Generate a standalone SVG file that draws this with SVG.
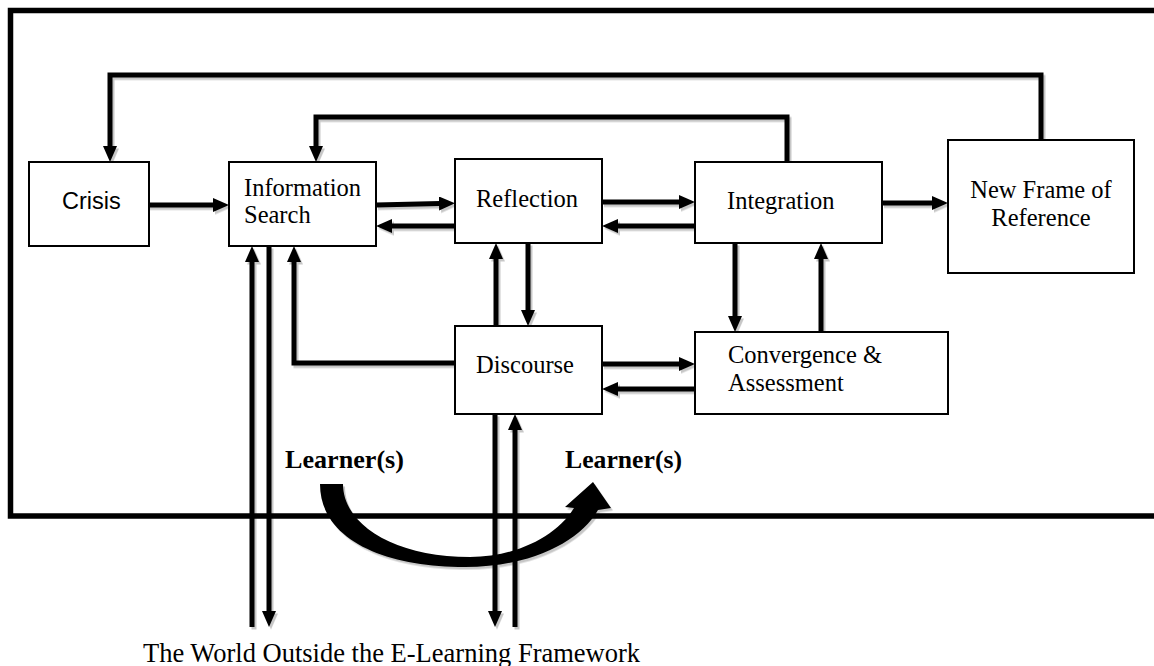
<svg xmlns="http://www.w3.org/2000/svg" width="1154" height="666" viewBox="0 0 1154 666">
  <style>
    .box { fill: #ffffff; stroke: #000000; stroke-width: 2; }
    .conn { fill: none; stroke: #000000; stroke-width: 5; stroke-linejoin: miter; stroke-linecap: butt; marker-end: url(#head); }
    .serif { font-family: "Liberation Serif", "Times New Roman", serif; font-size: 24.5px; fill: #000000; }
    .sans { font-family: "Liberation Sans", Arial, sans-serif; font-size: 23.5px; fill: #000000; }
    .learner { font-family: "Liberation Serif", "Times New Roman", serif; font-size: 24.5px; font-weight: bold; fill: #000000; }
    .world { font-family: "Liberation Serif", "Times New Roman", serif; font-size: 26.5px; fill: #000000; }
  </style>
  <defs>
    <marker id="head" markerUnits="userSpaceOnUse" markerWidth="17" markerHeight="15" refX="1" refY="7" orient="auto">
      <path d="M0,0 L16,7 L0,14 Z" fill="#000000"/>
    </marker>
    <filter id="shadow" x="-5%" y="-5%" width="110%" height="110%">
      <feDropShadow dx="2" dy="2.5" stdDeviation="0.6" flood-color="#000000" flood-opacity="0.22"/>
    </filter>
  </defs>
  <rect width="1154" height="666" fill="#ffffff"/>

  <!-- outer frame (open to the right) -->
  <path id="frame" d="M1160,10.5 H10.5 V516 H1160" fill="none" stroke="#000000" stroke-width="5.5"/>

  <g id="connectors" filter="url(#shadow)">
    <path class="conn" d="M147,205 H214"/>
    <path class="conn" d="M376,205 L440,203.5"/>
    <path class="conn" d="M455,226 H391"/>
    <path class="conn" d="M602,202 H680"/>
    <path class="conn" d="M695,226 H617"/>
    <path class="conn" d="M882,203 H933"/>
    <path class="conn" d="M1041,140 V75 H110 V147"/>
    <path class="conn" d="M787,162 V117 H316 V147"/>
    <path class="conn" d="M528,243 V311"/>
    <path class="conn" d="M496,326 V258"/>
    <path class="conn" d="M735,243 V317"/>
    <path class="conn" d="M821,332 V258"/>
    <path class="conn" d="M602,364 H680"/>
    <path class="conn" d="M695,389 H617"/>
    <path class="conn" d="M455,363 H294 V261"/>
    <path class="conn" d="M252,627 V261"/>
    <path class="conn" d="M269,246 V612"/>
    <path class="conn" d="M495,414 V612"/>
    <path class="conn" d="M515,627 V429"/>
    <path id="learner-arc" d="M320,484 L343,484 C343,525 395,557 470,557 C515,557 556,537 574,508 L565,507 L593,482 L611,508 L598,510 C580,542 530,567 465,567 C385,567 320,540 320,484 Z" fill="#000000"/>
  </g>

  <g id="crisis">
    <rect class="box" x="29" y="162" width="120" height="84"/>
    <text class="sans" x="62" y="209">Crisis</text>
  </g>
  <g id="information-search">
    <rect class="box" x="229" y="162" width="147" height="84"/>
    <text class="serif" x="244" y="196">Information</text>
    <text class="serif" x="244" y="223">Search</text>
  </g>
  <g id="reflection">
    <rect class="box" x="455" y="159" width="147" height="84"/>
    <text class="serif" x="476" y="207">Reflection</text>
  </g>
  <g id="integration">
    <rect class="box" x="695" y="162" width="187" height="81"/>
    <text class="serif" x="727" y="209">Integration</text>
  </g>
  <g id="new-frame">
    <rect class="box" x="948" y="140" width="186" height="133"/>
    <text class="serif" x="1041" y="198" text-anchor="middle">New Frame of</text>
    <text class="serif" x="1041" y="226" text-anchor="middle">Reference</text>
  </g>
  <g id="discourse">
    <rect class="box" x="455" y="326" width="147" height="88"/>
    <text class="serif" x="476" y="373">Discourse</text>
  </g>
  <g id="convergence">
    <rect class="box" x="695" y="332" width="253" height="82"/>
    <text class="serif" x="728" y="363">Convergence &amp;</text>
    <text class="serif" x="728" y="391">Assessment</text>
  </g>
  <g id="learners">
    <text class="learner" x="285" y="468" textLength="119" lengthAdjust="spacingAndGlyphs">Learner(s)</text>
    <text class="learner" x="565" y="468" textLength="117" lengthAdjust="spacingAndGlyphs">Learner(s)</text>
  </g>
  <g id="world">
    <text class="world" x="143" y="662">The World Outside the E-Learning Framework</text>
  </g>
</svg>
